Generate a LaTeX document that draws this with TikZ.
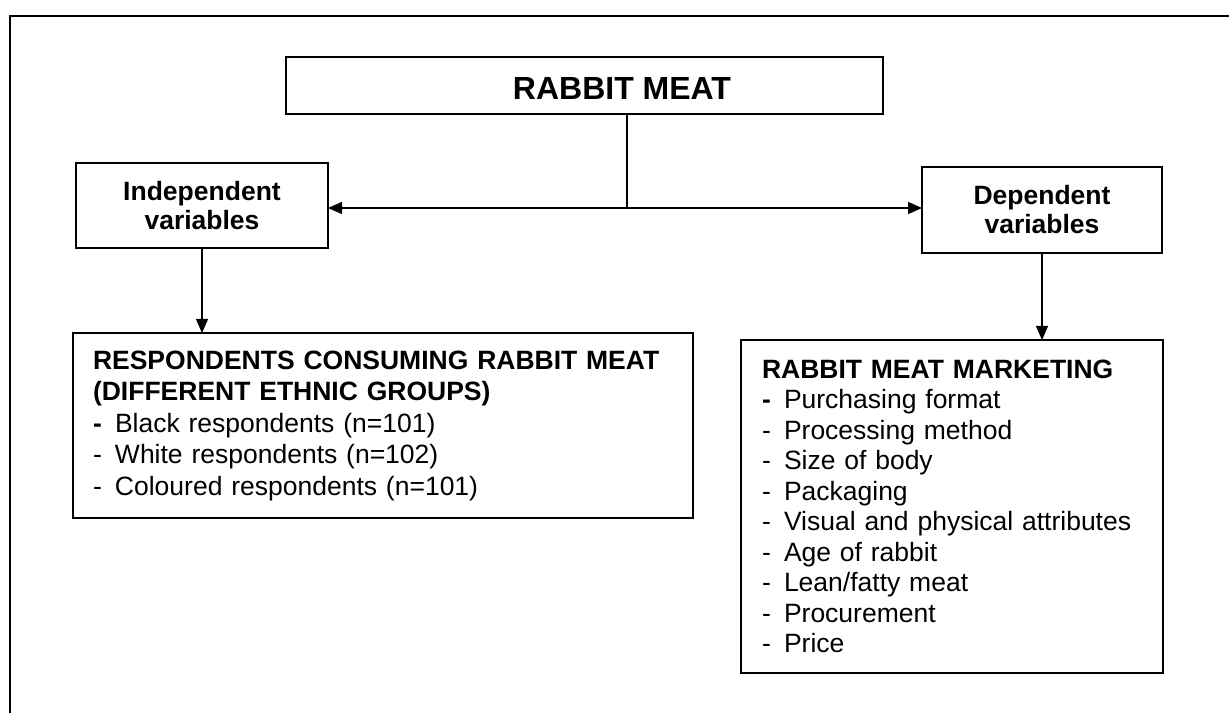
\documentclass[tikz,border=0pt]{standalone}
\usepackage{fontspec}
\setmainfont{Liberation Sans}
\usetikzlibrary{arrows.meta}
\newcommand{\listdash}[1]{\makebox[22pt][l]{#1}}

\begin{document}
\begin{tikzpicture}[x=1pt,y=1pt,
  box/.style={draw=drawColor,line width=1.5pt,inner sep=0pt,outer sep=0pt},
  link/.style={draw=drawColor,line width=1.2pt},
  arrowlink/.style={link,-{Triangle[length=14pt,width=12pt]}},
  headfont/.style={font=\fontsize{32}{38}\selectfont\bfseries,inner sep=0pt},
  varfont/.style={font=\fontsize{26.5}{29}\selectfont\bfseries,align=center},
  listfont/.style={font=\fontsize{26.5}{30.5}\selectfont,align=left,anchor=north west}]
\definecolor{drawColor}{RGB}{0,0,0}
\definecolor{fillColor}{RGB}{255,255,255}
\path[use as bounding box,fill=fillColor] (0,0) rectangle (1229,713);

\path[draw=drawColor,line width=2pt] (10,0) --
	(10,696.5) --
	(1229,696.5);

\node[box,minimum width=597,minimum height=57] (meat) at (584.5,627.5) {};

\node[headfont] (meattext) at (622,625) {RABBIT MEAT};

\node[box,varfont,minimum width=252,minimum height=85] (indep) at (202,507.5) {Independent\\variables};

\node[box,varfont,minimum width=240,minimum height=86] (dep) at (1042,503) {Dependent\\variables};

\node[box,listfont,font=\fontsize{26.5}{31.5}\selectfont,text width=580,inner xsep=20,minimum width=618,minimum height=185] (resp) at (73,380) {\textbf{RESPONDENTS CONSUMING RABBIT MEAT}\\
\textbf{(DIFFERENT ETHNIC GROUPS)}\\
\listdash{\textbf{-}}Black respondents (n=101)\\
\listdash{-}White respondents (n=102)\\
\listdash{-}Coloured respondents (n=101)};

\node[box,listfont,text width=380,inner xsep=21,minimum width=420,minimum height=333] (mkt) at (741,373) {\textbf{RABBIT MEAT MARKETING}\\
\listdash{\textbf{-}}Purchasing format\\
\listdash{-}Processing method\\
\listdash{-}Size of body\\
\listdash{-}Packaging\\
\listdash{-}Visual and physical attributes\\
\listdash{-}Age of rabbit\\
\listdash{-}Lean/fatty meat\\
\listdash{-}Procurement\\
\listdash{-}Price};

\coordinate (fork) at (627,505);

\path[link] (meat.south -| fork) -- (fork);

\path[arrowlink] (fork) -- (fork -| indep.east);

\path[arrowlink] (fork) -- (fork -| dep.west);

\path[arrowlink] (indep.south) -- (indep.south |- resp.north);

\path[arrowlink] (dep.south) -- (dep.south |- mkt.north);
\end{tikzpicture}
\end{document}
